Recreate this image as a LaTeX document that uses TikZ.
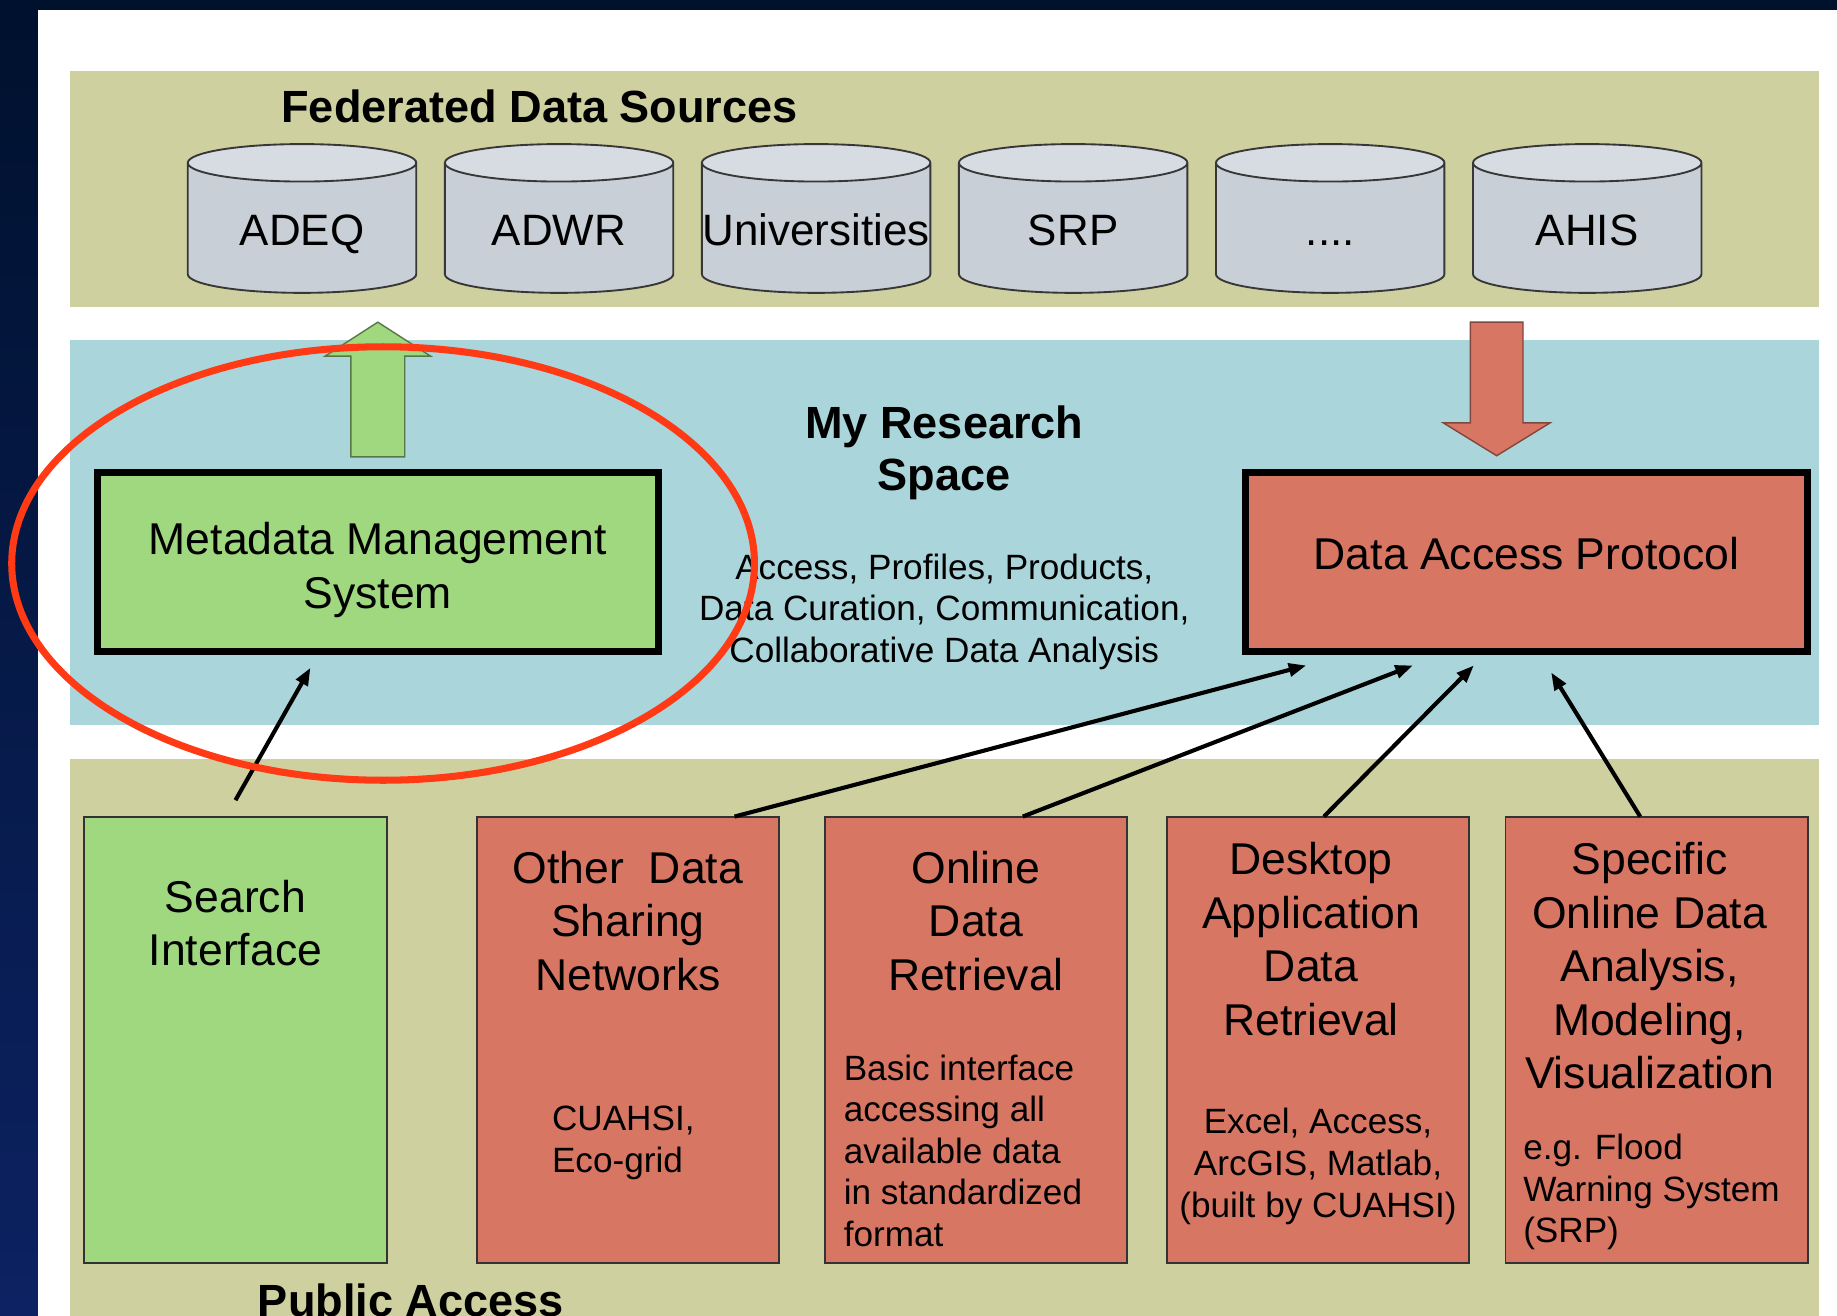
\documentclass[tikz,border=0pt]{standalone}
\usepackage{fontspec}
\setmainfont{Liberation Sans}
\usepackage{tikz}
\usetikzlibrary{arrows.meta}
\usetikzlibrary{positioning}
\usetikzlibrary{shapes.geometric}
\usetikzlibrary{calc}
\definecolor{navytop}{RGB}{0,17,46}
\definecolor{navybot}{RGB}{12,34,98}
\definecolor{tanband}{RGB}{206,208,160}
\definecolor{blueband}{RGB}{170,213,218}
\definecolor{mgreen}{RGB}{160,216,128}
\definecolor{mred}{RGB}{216,118,100}
\definecolor{dbbody}{RGB}{200,207,214}
\definecolor{dbtop}{RGB}{214,220,226}
\definecolor{dbline}{RGB}{55,55,55}
\definecolor{ringred}{RGB}{255,58,20}
\newcommand{\moredots}{....}
\tikzstyle{band}=[rectangle,inner sep=0pt,outer sep=0pt,anchor=north west]
\tikzstyle{dbcyl}=[cylinder,shape border rotate=90,aspect=0.164,draw=dbline,line width=1.6pt,cylinder uses custom fill,cylinder body fill=dbbody,cylinder end fill=dbtop,minimum width=195pt,minimum height=127pt,inner sep=0pt,anchor=shape center,text width=195pt,align=center,text height=30pt,text depth=0pt,font={\fontsize{37.5}{45}\selectfont}]
\tikzstyle{thickbox}=[rectangle,draw=black,line width=6pt,minimum width=479pt,minimum height=153pt,inner sep=0pt,outer sep=0pt,align=center,font={\fontsize{38}{46}\selectfont}]
\tikzstyle{appbox}=[rectangle,draw=black!80,line width=1.6pt,minimum width=258pt,minimum height=381pt,inner sep=0pt,outer sep=0pt,anchor=north west]
\tikzstyle{boxtitle}=[inner sep=0pt,align=center,font={\fontsize{38}{45.7}\selectfont}]
\tikzstyle{boxsub}=[inner sep=0pt,font={\fontsize{30}{35.5}\selectfont}]
\tikzstyle{bandtitle}=[inner sep=0pt,font={\fontsize{38.5}{45}\selectfont\bfseries}]
\tikzstyle{link}=[line width=3.5pt,-{Triangle[length=15pt,width=11pt]}]
\tikzstyle{bigarrow}=[line width=1.2pt,line join=miter]

\begin{document}
\begin{tikzpicture}[x=1pt,y=1pt]
	\useasboundingbox (0,0) rectangle (1568,1123);
	\shade[top color=navytop,bottom color=navybot] (0,0) rectangle (1568,1123);
	\fill[white] (32.5,0) rectangle (1568,1114.5);

	\node[band,fill=tanband,minimum width=1493pt,minimum height=201pt] (srcband) at (60,1062) {};
	\node[band,fill=blueband,minimum width=1493pt,minimum height=329pt] (resband) at (60,833) {};
	\node[band,fill=tanband,minimum width=1493pt,minimum height=475pt] (pubband) at (60,475) {};

	\node[bandtitle,anchor=base west] (fdst) at (240,1018) {Federated Data Sources};
	\foreach \nm/\lbl [count=\i from 0] in {adeq/ADEQ,adwr/ADWR,univ/Universities,srp/SRP,more/\moredots,ahis/AHIS}
	  \node[dbcyl] (\nm) at ({257.8+219.4*\i},936.5) {\lbl};

	\node[thickbox,fill=mgreen] (mms) at (322.5,643.5) {};
	\node[inner sep=0pt,align=center,font={\fontsize{38}{46}\selectfont}] (mmst) at ([yshift=-7pt]mms.center) {Metadata Management\\System};
	\node[thickbox,fill=mred,text depth=15pt] (dap) at (1303,643.5) {Data Access Protocol};

	\draw[bigarrow,fill=mgreen,draw=mgreen!55!black] ([xshift=-23pt,yshift=13pt]mms.north) -- ++(0,86) -- ++(-22,0)
	  -- ++(45,29) -- ++(45,-29) -- ++(-22,0) -- ++(0,-86) -- cycle;
	\draw[bigarrow,fill=mred,draw=mred!60!black] ([xshift=-25.5pt,yshift=14pt]dap.north) -- ++(45.5,28) -- ++(-23,0)
	  -- ++(0,86) -- ++(-45,0) -- ++(0,-86) -- ++(-23,0) -- cycle;

	\node[bandtitle,align=center,anchor=north] (mrst) at (806,777) {My Research\\Space};
	\node[boxsub,align=center,below=45pt of mrst] (mrss) {Access, Profiles, Products,\\Data Curation, Communication,\\Collaborative Data Analysis};

	\node[appbox,fill=mgreen] (sif) at (72,426) {};
	\node[appbox,fill=mred] (odn) at (407,426) {};
	\node[appbox,fill=mred] (odr) at (704,426) {};
	\node[appbox,fill=mred] (dadr) at (996,426) {};
	\node[appbox,fill=mred] (sod) at (1285,426) {};

	\node[boxtitle,below=54pt of sif.north] (sift) {Search\\Interface};
	\node[boxtitle,below=29pt of odn.north] (odnt) {Other\ \ Data\\Sharing\\Networks};
	\node[boxtitle,below=29pt of odr.north] (odrt) {Online\\Data\\Retrieval};
	\node[boxtitle,below=22pt of dadr.north,xshift=-6pt] (dadrt) {Desktop\\Application\\Data\\Retrieval};
	\node[boxtitle,below=22pt of sod.north,xshift=-6pt] (sodt) {Specific\\Online Data\\Analysis,\\Modeling,\\Visualization};

	\node[boxsub,align=left,below right=247pt and 64pt of odn.north west] (odns) {CUAHSI,\\Eco-grid};
	\node[boxsub,align=left,below right=203pt and 16pt of odr.north west] (odrs) {Basic interface\\accessing all\\available data\\in standardized\\format};
	\node[boxsub,align=center,below=249pt of dadr.north] (dadrs) {Excel, Access,\\ArcGIS, Matlab,\\(built by CUAHSI)};
	\node[boxsub,align=left,below right=271pt and 15pt of sod.north west] (sods) {e.g. Flood\\Warning System\\(SRP)};

	\node[bandtitle,anchor=base west] (pat) at (220,-0.5) {Public Access};

	\coordinate (m1) at ($(mms.south)+(-57.5,-14)$);
	\coordinate (e1) at ($(dap.south)+(-188,-12)$);
	\coordinate (e2) at ($(dap.south)+(-97,-12)$);
	\coordinate (e3) at ($(dap.south)+(-45,-12)$);
	\coordinate (e4) at ($(dap.south)+(21,-18)$);
	\draw[link] ([yshift=14pt]sif.north) -- (m1);
	\draw[link] ([xshift=91pt]odn.north) -- (e1);
	\draw[link] ([xshift=40pt]odr.north) -- (e2);
	\draw[link] ([xshift=5pt]dadr.north) -- (e3);
	\draw[link] ([xshift=-14pt]sod.north) -- (e4);

	\node[ellipse,draw=ringred,line width=6pt,minimum width=634pt,minimum height=370pt,inner sep=0pt] (ring) at (327,642) {};
\end{tikzpicture}
\end{document}
